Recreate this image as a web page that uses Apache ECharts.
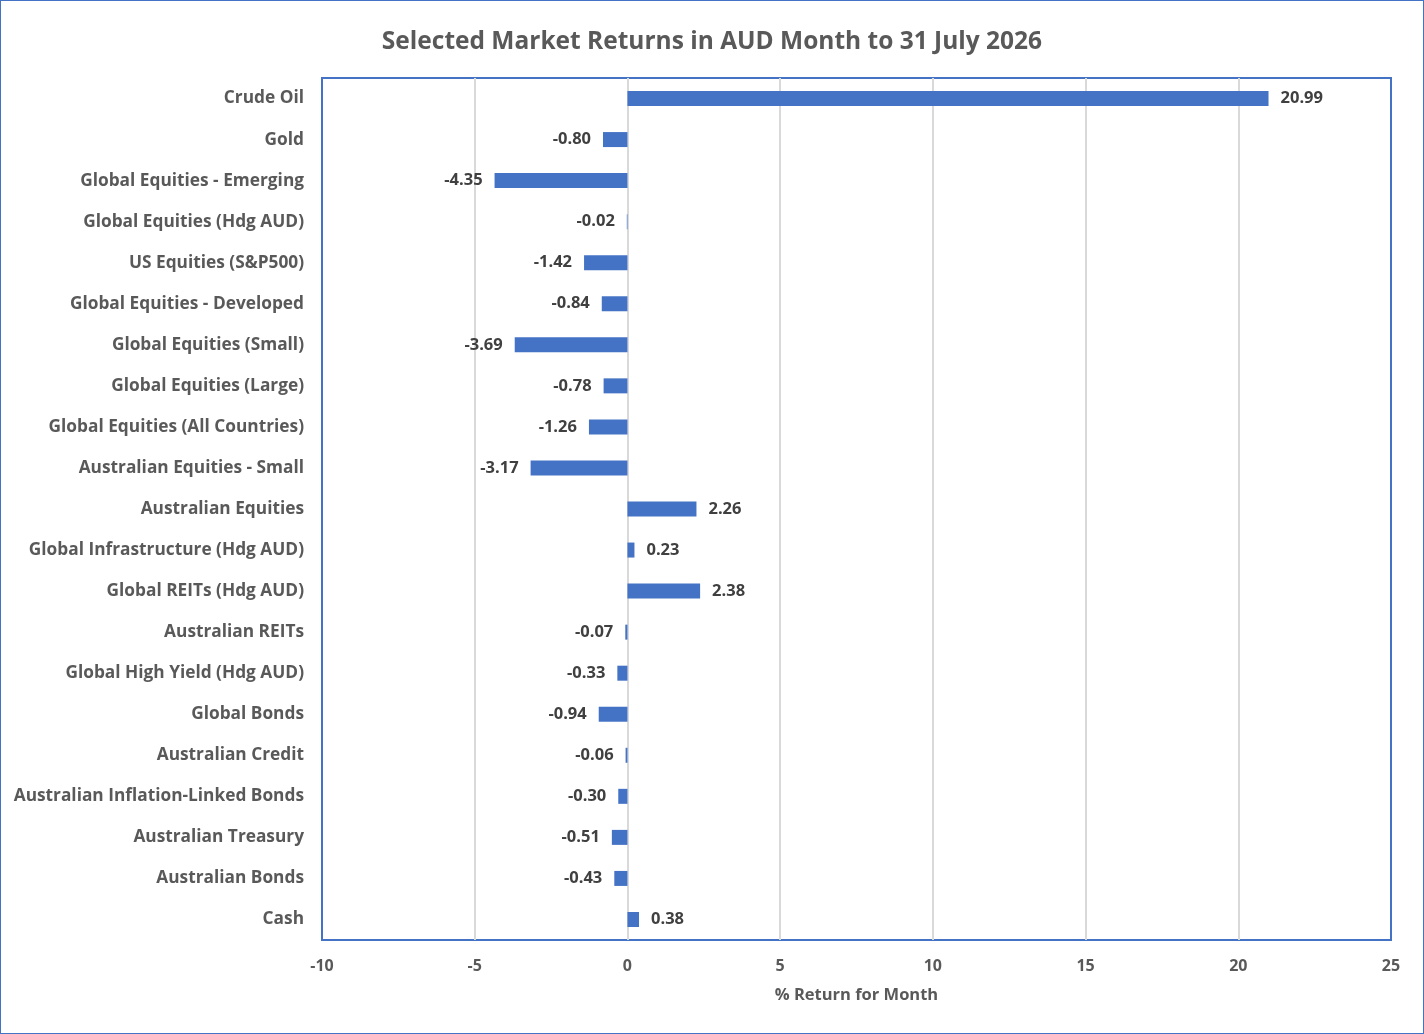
<!DOCTYPE html>
<html>
<head>
<meta charset="UTF-8">
<title>Selected Market Returns</title>
<script src="https://cdn.jsdelivr.net/npm/echarts@6/dist/echarts.min.js"></script>
<style>
  html, body { margin: 0; padding: 0; background: #fff; }
  #main { width: 1422px; height: 1032px; border: 1px solid #4472C4; }
</style>
</head>
<body>
<div id="main"></div>
<script>
// categories top to bottom as in the picture
var categories = ['Crude Oil', 'Gold', 'Global Equities - Emerging', 'Global Equities (Hdg AUD)',
  'US Equities (S&P500)', 'Global Equities - Developed', 'Global Equities (Small)',
  'Global Equities (Large)', 'Global Equities (All Countries)', 'Australian Equities - Small',
  'Australian Equities', 'Global Infrastructure (Hdg AUD)', 'Global REITs (Hdg AUD)',
  'Australian REITs', 'Global High Yield (Hdg AUD)', 'Global Bonds', 'Australian Credit',
  'Australian Inflation-Linked Bonds', 'Australian Treasury', 'Australian Bonds', 'Cash'];
var returns = [20.99, -0.80, -4.35, -0.02, -1.42, -0.84, -3.69, -0.78, -1.26, -3.17,
  2.26, 0.23, 2.38, -0.07, -0.33, -0.94, -0.06, -0.30, -0.51, -0.43, 0.38];
var xTicks = [-10, -5, 0, 5, 10, 15, 20, 25];

var font = '"Open Sans", sans-serif';
var grey = '#595959';

var myChart = echarts.init(document.getElementById('main'));
// negative bars get their label on the left end
var barData = returns.map(function (v) {
  return {
    value: v,
    label: { position: v < 0 ? 'left' : 'right' }
  };
});

var option = {
  animation: false,
  title: {
    text: 'Selected Market Returns in AUD Month to 31 July 2026',
    left: 'center',
    top: 24,
    textStyle: { fontFamily: font, fontSize: 24.5, fontWeight: 'bold', color: grey }
  },
  grid: { left: 321, right: 32, top: 77, bottom: 93, containLabel: false,
    show: true, borderColor: '#4472C4', borderWidth: 2 },
  xAxis: {
    type: 'value',
    min: xTicks[0],
    max: xTicks[xTicks.length - 1],
    interval: 5,
    name: '% Return for Month',
    nameLocation: 'middle',
    nameGap: 47,
    nameTextStyle: { fontFamily: font, fontSize: 16.5, fontWeight: 'bold', color: grey },
    axisLine: { show: false },
    axisTick: { show: false },
    axisLabel: { fontFamily: font, fontSize: 16, fontWeight: 'bold', color: grey, margin: 18 },
    splitLine: { show: true, showMinLine: false, showMaxLine: false,
      lineStyle: { color: '#D9D9D9', width: 2 } }
  },
  yAxis: {
    type: 'category',
    data: categories,
    inverse: true,
    axisLine: { show: false },
    axisTick: { show: false },
    axisLabel: { fontFamily: font, fontSize: 17.3, fontWeight: 'bold', color: grey, margin: 18 }
  },
  series: [{
    type: 'bar',
    data: barData,
    barWidth: 15,
    itemStyle: { color: '#4472C4' },
    label: {
      show: true,
      distance: 12,
      fontFamily: font, fontSize: 16.5, fontWeight: 'bold', color: '#404040',
      formatter: function (p) { return p.value.toFixed(2); }
    }
  }]
};
myChart.setOption(option);
</script>
</body>
</html>
